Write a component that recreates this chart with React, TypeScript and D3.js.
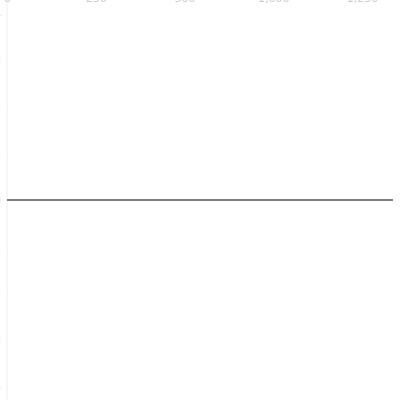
import { useRef, useEffect } from "react";
import * as d3 from "d3";

// flat series: every point sits on zero
const X_VALUES = [0, 1, 2, 3, 4, 4.35];
const SERIES_VALUES = [0, 0, 0, 0, 0, 0];
const X_TICKS = [0, 1, 2, 3, 4];
const X_TICK_LABELS = ["0", "250", "500", "1,000", "1,250"];
const Y_TICKS = [-4, -3, -2, -1, 0, 1, 2, 3, 4];

const WIDTH = 400;
const HEIGHT = 400;

export default function App() {
  const svgRef = useRef<SVGSVGElement>(null);

  useEffect(() => {
    if (!svgRef.current) return;
    const svg = d3.select(svgRef.current);
    svg.selectAll("*").remove();

    const x = d3.scaleLinear().domain([0, 4.35]).range([7, 393]);
    const y = d3.scaleLinear().domain([-4.3, 4.3]).range([HEIGHT, 0]);

    // faint vertical axis rule
    svg
      .append("line")
      .attr("x1", 7)
      .attr("x2", 7)
      .attr("y1", 0)
      .attr("y2", HEIGHT)
      .attr("stroke", "#eeeeee")
      .attr("stroke-width", 1);

    // x labels sit above the top edge, only their feet show
    const xAxis = svg
      .append("g")
      .attr("transform", "translate(0,1.5)")
      .call(
        d3
          .axisTop(x)
          .tickValues(X_TICKS)
          .tickSize(0)
          .tickPadding(0)
          .tickFormat((_, i) => X_TICK_LABELS[i])
      );
    xAxis.select(".domain").remove();
    xAxis.selectAll("text").attr("fill", "#ccc").attr("font-size", 11).attr("font-family", "DejaVu Sans");

    // y labels run off the left edge
    const yAxis = svg
      .append("g")
      .attr("transform", "translate(1,0)")
      .call(d3.axisLeft(y).tickValues(Y_TICKS).tickSize(0).tickPadding(0));
    yAxis.select(".domain").remove();
    yAxis.selectAll("text").attr("fill", "#ccc").attr("font-size", 11).attr("font-family", "DejaVu Sans");

    const line = d3
      .line<number>()
      .x((_, i) => x(X_VALUES[i]))
      .y((d) => y(d));

    svg
      .append("path")
      .datum(SERIES_VALUES)
      .attr("fill", "none")
      .attr("stroke", "#555")
      .attr("stroke-width", 1.5)
      .attr("d", line);
  }, []);

  return (
    <svg
      ref={svgRef}
      width={WIDTH}
      height={HEIGHT}
      style={{ position: "absolute", left: 0, top: 0, background: "#fff" }}
    />
  );
}
